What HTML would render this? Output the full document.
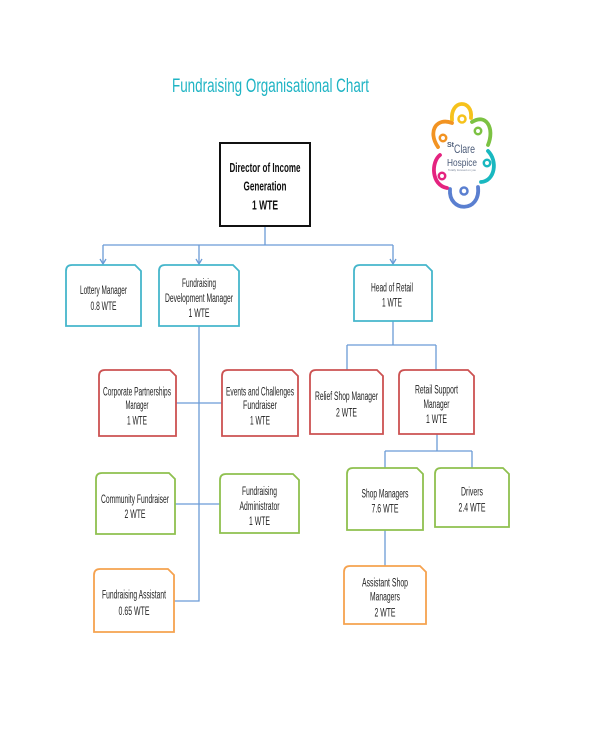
<!DOCTYPE html>
<html>
<head>
<meta charset="utf-8">
<style>
html,body{margin:0;padding:0;background:#fff;}
svg{display:block;}
text{font-family:"Liberation Sans",Arial,sans-serif;}
</style>
</head>
<body>
<svg width="600" height="730" viewBox="0 0 600 730" xmlns="http://www.w3.org/2000/svg">
<rect x="0" y="0" width="600" height="730" fill="#fff"/>

<!-- Title -->
<text x="172" y="92" font-size="19" fill="#1fb4c4" textLength="197" lengthAdjust="spacingAndGlyphs">Fundraising Organisational Chart</text>

<!-- Logo -->
<g fill="none" stroke-width="3.8" stroke-linecap="round">
  <path d="M452,120 C450,99 473,99 471,118" stroke="#f6c21c"/>
  <circle cx="462" cy="119" r="3.5" stroke="#f6c21c" stroke-width="2.5"/>
  <path d="M472,122 C486,113 495,128 488,145" stroke="#7cc242"/>
  <circle cx="478" cy="131" r="3.2" stroke="#7cc242" stroke-width="2.5"/>
  <path d="M488,151 C498,161 495,181 481,182" stroke="#19b8c0"/>
  <circle cx="487" cy="163" r="3.2" stroke="#19b8c0" stroke-width="2.5"/>
  <path d="M478,187 C481,213 448,213 450,189" stroke="#5a7fd0"/>
  <circle cx="464" cy="191" r="3.5" stroke="#5a7fd0" stroke-width="2.5"/>
  <path d="M447,188 C431,185 431,162 440,155" stroke="#e4237f"/>
  <circle cx="442" cy="176" r="3.2" stroke="#e4237f" stroke-width="2.5"/>
  <path d="M438,147 C427,131 437,117 452,123" stroke="#f29322"/>
  <circle cx="443" cy="138" r="3.2" stroke="#f29322" stroke-width="2.5"/>
</g>
<text x="447" y="147" font-size="7" fill="#4b5b78" font-weight="bold">St</text>
<text x="454" y="153" font-size="12" fill="#4b5b78" textLength="21" lengthAdjust="spacingAndGlyphs">Clare</text>
<text x="447" y="166" font-size="10.5" fill="#4b5b78" textLength="30" lengthAdjust="spacingAndGlyphs">Hospice</text>
<text x="448" y="171" font-size="3" fill="#7a8599" textLength="28" lengthAdjust="spacingAndGlyphs">Totally focused on you</text>

<!-- Connectors -->
<g stroke="#6b9bd6" stroke-width="1.3" fill="none">
  <path d="M265,226 V245"/>
  <path d="M103,245 H393"/>
  <path d="M103,245 V264 M199,245 V264 M393,245 V264"/>
  <path d="M100,259 L103,264 L106,259 M196,259 L199,264 L202,259 M390,259 L393,264 L396,259"/>
  <path d="M199,326 V601 H174"/>
  <path d="M176,403 H222"/>
  <path d="M175,504 H220"/>
  <path d="M393,321 V345 M347,345 H436 M347,345 V370 M436,345 V370"/>
  <path d="M437,434 V451 M385,451 H472 M385,451 V468 M472,451 V468"/>
  <path d="M385,530 V566"/>
</g>

<!-- Director box -->
<rect x="220" y="143" width="90" height="83" fill="#fff" stroke="#111" stroke-width="2"/>
<g font-weight="bold" font-size="12.5" fill="#111" text-anchor="middle">
  <text x="265" y="171.8" textLength="71" lengthAdjust="spacingAndGlyphs">Director of Income</text>
  <text x="265" y="190.3" textLength="43" lengthAdjust="spacingAndGlyphs">Generation</text>
  <text x="265" y="209.5" textLength="26" lengthAdjust="spacingAndGlyphs">1 WTE</text>
</g>

<!-- Boxes -->
<g fill="#fff" stroke-width="1.8">
  <!-- teal -->
  <path stroke="#45b6cb" d="M66,326 L66,271 Q66,265 72,265 L135,265 L141,271 L141,326 Z"/>
  <path stroke="#45b6cb" d="M159,326 L159,271 Q159,265 165,265 L233,265 L239,271 L239,326 Z"/>
  <path stroke="#45b6cb" d="M354,321 L354,271 Q354,265 360,265 L426,265 L432,271 L432,321 Z"/>
  <!-- red -->
  <path stroke="#cc5252" d="M99,436 L99,376 Q99,370 105,370 L170,370 L176,376 L176,436 Z"/>
  <path stroke="#cc5252" d="M222,436 L222,376 Q222,370 228,370 L292,370 L298,376 L298,436 Z"/>
  <path stroke="#cc5252" d="M310,434 L310,376 Q310,370 316,370 L377,370 L383,376 L383,434 Z"/>
  <path stroke="#cc5252" d="M399,434 L399,376 Q399,370 405,370 L468,370 L474,376 L474,434 Z"/>
  <!-- green -->
  <path stroke="#8fc04f" d="M96,534 L96,479 Q96,473 102,473 L169,473 L175,479 L175,534 Z"/>
  <path stroke="#8fc04f" d="M220,533 L220,480 Q220,474 226,474 L293,474 L299,480 L299,533 Z"/>
  <path stroke="#8fc04f" d="M347,530 L347,474 Q347,468 353,468 L417,468 L423,474 L423,530 Z"/>
  <path stroke="#8fc04f" d="M435,527 L435,474 Q435,468 441,468 L503,468 L509,474 L509,527 Z"/>
  <!-- orange -->
  <path stroke="#f5a24f" d="M94,632 L94,575 Q94,569 100,569 L168,569 L174,575 L174,632 Z"/>
  <path stroke="#f5a24f" d="M344,624 L344,572 Q344,566 350,566 L420,566 L426,572 L426,624 Z"/>
</g>

<!-- Box text -->
<g font-size="11.5" fill="#1e1e1e" text-anchor="middle">
  <text x="103.5" y="294.2" textLength="47" lengthAdjust="spacingAndGlyphs">Lottery Manager</text>
  <text x="103.5" y="310" textLength="26" lengthAdjust="spacingAndGlyphs">0.8 WTE</text>

  <text x="199" y="287" textLength="34" lengthAdjust="spacingAndGlyphs">Fundraising</text>
  <text x="199" y="302" textLength="68" lengthAdjust="spacingAndGlyphs">Development Manager</text>
  <text x="199" y="317" textLength="21" lengthAdjust="spacingAndGlyphs">1 WTE</text>

  <text x="392" y="291.7" textLength="42" lengthAdjust="spacingAndGlyphs">Head of Retail</text>
  <text x="392" y="306.7" textLength="20" lengthAdjust="spacingAndGlyphs">1 WTE</text>

  <text x="137" y="395.7" textLength="68" lengthAdjust="spacingAndGlyphs">Corporate Partnerships</text>
  <text x="137" y="409" textLength="23" lengthAdjust="spacingAndGlyphs">Manager</text>
  <text x="137" y="424.7" textLength="20" lengthAdjust="spacingAndGlyphs">1 WTE</text>

  <text x="260" y="395.7" textLength="68" lengthAdjust="spacingAndGlyphs">Events and Challenges</text>
  <text x="260" y="409" textLength="34" lengthAdjust="spacingAndGlyphs">Fundraiser</text>
  <text x="260" y="424.7" textLength="20" lengthAdjust="spacingAndGlyphs">1 WTE</text>

  <text x="346.5" y="400" textLength="63" lengthAdjust="spacingAndGlyphs">Relief Shop Manager</text>
  <text x="346.5" y="416.7" textLength="21" lengthAdjust="spacingAndGlyphs">2 WTE</text>

  <text x="436.5" y="393.3" textLength="43" lengthAdjust="spacingAndGlyphs">Retail Support</text>
  <text x="436.5" y="408" textLength="26" lengthAdjust="spacingAndGlyphs">Manager</text>
  <text x="436.5" y="423" textLength="21" lengthAdjust="spacingAndGlyphs">1 WTE</text>

  <text x="135" y="503" textLength="68" lengthAdjust="spacingAndGlyphs">Community Fundraiser</text>
  <text x="135" y="518" textLength="21" lengthAdjust="spacingAndGlyphs">2 WTE</text>

  <text x="259.5" y="495" textLength="35" lengthAdjust="spacingAndGlyphs">Fundraising</text>
  <text x="259.5" y="510" textLength="40" lengthAdjust="spacingAndGlyphs">Administrator</text>
  <text x="259.5" y="525" textLength="21" lengthAdjust="spacingAndGlyphs">1 WTE</text>

  <text x="134" y="598.3" textLength="64" lengthAdjust="spacingAndGlyphs">Fundraising Assistant</text>
  <text x="134" y="615" textLength="31" lengthAdjust="spacingAndGlyphs">0.65 WTE</text>

  <text x="385" y="497.3" textLength="47" lengthAdjust="spacingAndGlyphs">Shop Managers</text>
  <text x="385" y="512.3" textLength="27" lengthAdjust="spacingAndGlyphs">7.6 WTE</text>

  <text x="472" y="495.7" textLength="22" lengthAdjust="spacingAndGlyphs">Drivers</text>
  <text x="472" y="511.3" textLength="27" lengthAdjust="spacingAndGlyphs">2.4 WTE</text>

  <text x="385" y="586.3" textLength="46" lengthAdjust="spacingAndGlyphs">Assistant Shop</text>
  <text x="385" y="600.7" textLength="30" lengthAdjust="spacingAndGlyphs">Managers</text>
  <text x="385" y="616.3" textLength="21" lengthAdjust="spacingAndGlyphs">2 WTE</text>
</g>
</svg>
</body>
</html>
